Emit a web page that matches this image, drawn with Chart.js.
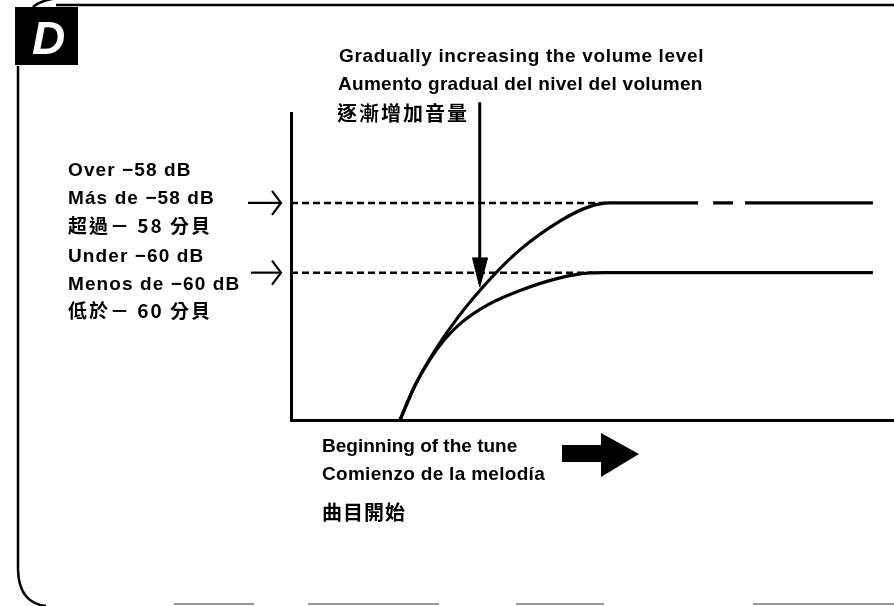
<!DOCTYPE html>
<html><head><meta charset="utf-8">
<script src="https://cdn.jsdelivr.net/npm/chart.js@4.4.0/dist/chart.umd.min.js"></script>
<style>html,body{margin:0;padding:0;background:#fff}#wrap{width:894px;height:606px;position:relative}</style>
</head><body><div id="wrap"><canvas id="c" width="894" height="606"></canvas></div>
<script>
// ---- values (time on x, volume level on y; arbitrary units) ----
const upperCurveX = [18.08, 20.5, 23.5, 27.7, 33.3, 38.0, 44.6, 49.5, 52.9, 67.5];
const upperCurveY = [0, 11.0, 21.5, 33.5, 46.5, 55.5, 64.8, 69.5, 70.7, 70.7];
const upperTailX  = [70.0, 73.3, 74.3, 75.3, 96.5];
const upperTailY  = [70.7, 70.7, null, 70.7, 70.7];
const lowerCurveX = [18.08, 20.5, 23.0, 25.5, 28.3, 32.7, 38.0, 44.6, 49.6, 52.0, 96.5];
const lowerCurveY = [0, 11.0, 19.6, 26.3, 31.8, 37.6, 42.2, 46.3, 47.9, 48.0, 48.0];
const refLevels   = [70.7, 48.0];          // over -58 dB, under -60 dB
const refEndX     = [52.4, 50.0];
const arrowX      = 31.3;
const arrowShaftY = [103.5, 52.0];
const arrowHeadX  = [30.1, 32.6, 31.3, 30.1];
const arrowHeadY  = [52.8, 52.8, 43.3, 52.8];
const leftLabels  = [["Over −58 dB", "Más de −58 dB", "超過－ 58 分貝"],
                     ["Under −60 dB", "Menos de −60 dB", "低於－ 60 分貝"]];
const topLabels   = ["Gradually increasing the volume level", "Aumento gradual del nivel del volumen", "逐漸增加音量"];
const bottomLabels= ["Beginning of the tune", "Comienzo de la melodía", "曲目開始"];
const panelLetter = "D";

const pts = (xs, ys) => xs.map((v, i) => ({x: v, y: ys[i]}));

const LAT = '"Liberation Sans", Arial, sans-serif';
const CJK = '"Noto Sans CJK TC", sans-serif';

const annot = {
  id: 'annot',
  afterDraw(chart) {
    const {ctx, scales: {x, y}} = chart;
    ctx.save();
    ctx.strokeStyle = '#000';
    ctx.fillStyle = '#000';
    // frame
    ctx.lineWidth = 2.5;
    ctx.beginPath();
    ctx.moveTo(18, 66); ctx.lineTo(18, 570);
    ctx.quadraticCurveTo(19, 603, 46, 606);
    ctx.stroke();
    ctx.beginPath();
    ctx.moveTo(33, 7); ctx.quadraticCurveTo(40, 1, 52, -1); ctx.stroke();
    ctx.beginPath();
    ctx.moveTo(56, 5); ctx.lineTo(894, 5); ctx.stroke();
    ctx.strokeStyle = '#999'; ctx.lineWidth = 2;
    [[174, 254], [308, 439], [516, 604], [753, 894]].forEach(([a, b]) => {
      ctx.beginPath(); ctx.moveTo(a, 604); ctx.lineTo(b, 604); ctx.stroke();
    });
    ctx.strokeStyle = '#000';
    // panel letter box
    ctx.fillRect(15, 7, 63, 58);
    ctx.fillStyle = '#fff';
    ctx.font = 'italic bold 46px "Liberation Sans", sans-serif';
    ctx.textBaseline = 'alphabetic';
    ctx.fillText(panelLetter, 32, 54);
    ctx.fillStyle = '#000';

    const txt = (t, px, py, font, ls) => {
      ctx.font = font; ctx.letterSpacing = ls + 'px'; ctx.fillText(t, px, py);
    };
    // left labels
    const base = [[176, 204, 233], [262, 290, 318]];
    leftLabels.forEach((grp, g) => {
      txt(grp[0], 68, base[g][0], 'bold 19px ' + LAT, 1.1);
      txt(grp[1], 68, base[g][1], 'bold 19px ' + LAT, 1.1);
      txt(grp[2], 68, base[g][2], 'bold 19px ' + CJK, 2);
    });
    ctx.letterSpacing = '0px';
    // thin arrows to the reference levels
    ctx.lineWidth = 2.2;
    refLevels.forEach((lv, i) => {
      const py = y.getPixelForValue(lv);
      const x0 = i === 0 ? 248 : 251, tip = 281;
      ctx.beginPath(); ctx.moveTo(x0, py); ctx.lineTo(tip, py); ctx.stroke();
      ctx.beginPath(); ctx.moveTo(tip - 9, py - 12); ctx.lineTo(tip, py); ctx.lineTo(tip - 9, py + 12); ctx.stroke();
    });

    // top labels
    txt(topLabels[0], 339, 62, 'bold 19px ' + LAT, 0.65);
    txt(topLabels[1], 338, 90, 'bold 19px ' + LAT, 0.3);
    txt(topLabels[2], 337, 121, 'bold 20px ' + CJK, 2);

    // bottom labels
    txt(bottomLabels[0], 322, 452, 'bold 19px ' + LAT, 0);
    txt(bottomLabels[1], 322, 480, 'bold 19px ' + LAT, 0.3);
    txt(bottomLabels[2], 322, 520, 'bold 20px ' + CJK, 1);
    ctx.letterSpacing = '0px';

    // big direction arrow
    ctx.fillRect(562, 445, 41, 17);
    ctx.beginPath(); ctx.moveTo(601, 433); ctx.lineTo(639, 454); ctx.lineTo(601, 477); ctx.closePath(); ctx.fill();
    ctx.restore();
  }
};

const lineDs = (data, extra) => Object.assign({
  data, borderColor: '#000', backgroundColor: '#000', borderWidth: 3.2,
  pointRadius: 0, fill: false, clip: false, spanGaps: false
}, extra || {});

new Chart(document.getElementById('c'), {
  type: 'line',
  data: {
    datasets: [
      lineDs(pts(upperCurveX, upperCurveY), {cubicInterpolationMode: 'monotone'}),
      lineDs(pts(upperTailX, upperTailY)),
      lineDs(pts(lowerCurveX, lowerCurveY), {cubicInterpolationMode: 'monotone'}),
      lineDs([{x: 0, y: refLevels[0]}, {x: refEndX[0], y: refLevels[0]}], {borderWidth: 2.5, borderDash: [7, 4]}),
      lineDs([{x: 0, y: refLevels[1]}, {x: refEndX[1], y: refLevels[1]}], {borderWidth: 2.5, borderDash: [7, 4]}),
      lineDs(arrowShaftY.map(v => ({x: arrowX, y: v})), {borderWidth: 3}),
      lineDs(pts(arrowHeadX, arrowHeadY), {borderWidth: 1, fill: 'shape'})
    ]
  },
  options: {
    responsive: false, animation: false, devicePixelRatio: 1,
    layout: {padding: {left: 291, right: 0, top: 113, bottom: 186}},
    plugins: {legend: {display: false}, tooltip: {enabled: false}},
    scales: {
      x: {type: 'linear', min: 0, max: 100,
          grid: {display: false, drawTicks: false}, ticks: {display: false},
          border: {display: true, color: '#000', width: 3}},
      y: {type: 'linear', min: 0, max: 100,
          grid: {display: false, drawTicks: false}, ticks: {display: false},
          border: {display: true, color: '#000', width: 3}}
    }
  },
  plugins: [annot]
});
</script></body></html>
